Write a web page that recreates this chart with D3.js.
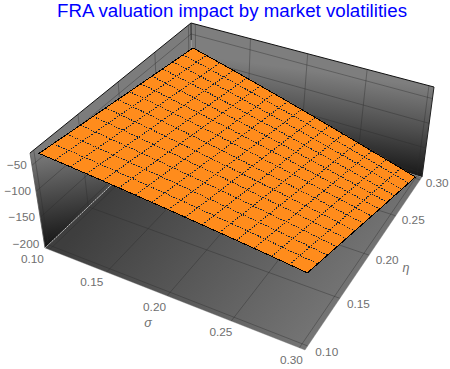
<!DOCTYPE html>
<html><head><meta charset="utf-8">
<script src="https://cdn.jsdelivr.net/npm/d3@7"></script>
<style>html,body{margin:0;padding:0;background:#fff}svg{display:block}text{font-family:"Liberation Sans",Arial,sans-serif}</style>
</head><body><div id="c"></div>
<script>
const titleText = "FRA valuation impact by market volatilities";
const sigmaTicks = [0.10, 0.15, 0.20, 0.25, 0.30];
const etaTicks = [0.10, 0.15, 0.20, 0.25, 0.30];
const zTicks = [-50, -100, -150, -200];
const sigmaMesh = [0.1,0.1125,0.125,0.1375,0.15,0.1625,0.175,0.1875,0.2,0.2125,0.225,0.2375,0.25,0.2625,0.275,0.2875,0.3];
const etaMesh = [0.1,0.1154,0.1308,0.1462,0.1615,0.1769,0.1923,0.2077,0.2231,0.2385,0.2538,0.2692,0.2846,0.3];
// surface height read along the two outer edges of the sheet, one value per sigma mesh line
const zAtEtaLow = [-30,-33.2,-36.4,-39.7,-43,-46.3,-49.7,-53.1,-56.5,-60,-63.5,-67,-70.5,-74,-77.6,-81.3,-85];
const zAtEtaHigh = [-73,-80.8,-88.8,-96.9,-105,-113.2,-121.4,-129.7,-138,-146.4,-154.8,-163.3,-171.8,-180.3,-188.8,-197.4,-206];

const W = 450, H = 369;
// box corners on screen: [sigma side, eta side]
const floorC = {A:[45,248], B:[305,350], C:[422,177], D:[192,108]};
const topC = {A:[30,153], B:[313,245], C:[434,87], D:[191,23]};

function homography(c){
  const [x0,y0]=c.A,[x1,y1]=c.B,[x2,y2]=c.C,[x3,y3]=c.D;
  const dx1=x1-x2,dx2=x3-x2,sx=x0-x1+x2-x3,dy1=y1-y2,dy2=y3-y2,sy=y0-y1+y2-y3;
  const den=dx1*dy2-dx2*dy1;
  const g=(sx*dy2-dx2*sy)/den,h=(dx1*sy-sx*dy1)/den;
  const a=x1-x0+g*x1,b=x3-x0+h*x3,d=y1-y0+g*y1,e=y3-y0+h*y3;
  return (u,v)=>{const w=g*u+h*v+1;return [(a*u+b*v+x0)/w,(d*u+e*v+y0)/w];};
}
const hFloor=homography(floorC), hTop=homography(topC);
const sx=d3.scaleLinear().domain([0.096,0.304]).range([0,1]);
const sy=d3.scaleLinear().domain([0.096,0.304]).range([0,1]);
const sz=d3.scaleLinear().domain([-208.5,-26.5]).range([0,1]);
function P(s,e,z){
  const u=sx(s),v=sy(e),t=sz(z),f=hFloor(u,v),g=hTop(u,v);
  return [f[0]+(g[0]-f[0])*t,f[1]+(g[1]-f[1])*t];
}
const zlo=sz.domain()[0],zhi=sz.domain()[1],slo=sx.domain()[0],shi=sx.domain()[1],elo=sy.domain()[0],ehi=sy.domain()[1];
const line=d3.line();
const poly=p=>line(p)+"Z";

const svg=d3.select("#c").append("svg").attr("width",W).attr("height",H).attr("viewBox",`0 0 ${W} ${H}`);
const defs=svg.append("defs");
function grad(id,a,b,stops){
  const g=defs.append("linearGradient").attr("id",id).attr("gradientUnits","userSpaceOnUse")
    .attr("x1",a[0]).attr("y1",a[1]).attr("x2",b[0]).attr("y2",b[1]);
  stops.forEach(s=>g.append("stop").attr("offset",s[0]).attr("stop-color",s[1]));
}
grad("gl",P(slo,elo,zhi),P(slo,elo,zlo),[[0,"#7c7c7c"],[0.45,"#4c4c4c"],[1,"#141414"]]);
grad("gr",P(shi,ehi,zhi),P(shi,ehi,zlo),[[0,"#7e7e7e"],[0.5,"#4e4e4e"],[1,"#181818"]]);
grad("gf",[110,190],[305,350],[[0,"#3e3e3e"],[1,"#757575"]]);

// walls and floor
svg.append("path").attr("d",poly([P(slo,elo,zhi),P(slo,ehi,zhi),P(slo,ehi,zlo),P(slo,elo,zlo)])).attr("fill","url(#gl)");
svg.append("path").attr("d",poly([P(slo,ehi,zhi),P(shi,ehi,zhi),P(shi,ehi,zlo),P(slo,ehi,zlo)])).attr("fill","url(#gr)");
svg.append("path").attr("d",poly([P(slo,elo,zlo),P(shi,elo,zlo),P(shi,ehi,zlo),P(slo,ehi,zlo)])).attr("fill","url(#gf)");

// grid lines
const grid=svg.append("g").attr("fill","none").attr("stroke","#2a2a2a").attr("stroke-opacity",0.38).attr("stroke-width",1);
const gl=(a,b)=>grid.append("path").attr("d",line([a,b]));
sigmaTicks.forEach(s=>{gl(P(s,elo,zlo),P(s,ehi,zlo));gl(P(s,ehi,zlo),P(s,ehi,zhi));});
etaTicks.forEach(e=>{gl(P(slo,e,zlo),P(shi,e,zlo));gl(P(slo,e,zlo),P(slo,e,zhi));});
zTicks.forEach(z=>{gl(P(slo,elo,z),P(slo,ehi,z));gl(P(slo,ehi,z),P(shi,ehi,z));});

// box edges
const edges=svg.append("g").attr("fill","none");
edges.append("path").attr("d",line([P(slo,elo,zhi),P(slo,ehi,zhi),P(shi,ehi,zhi)])).attr("stroke","#111").attr("stroke-width",1);
edges.append("path").attr("d",line([P(shi,ehi,zhi),P(shi,ehi,zlo)])).attr("stroke","#222").attr("stroke-width",1);
edges.append("path").attr("d",line([P(slo,elo,zhi),P(slo,elo,zlo)])).attr("stroke","#555").attr("stroke-width",0.8);
edges.append("path").attr("d",line([P(slo,ehi,zhi),P(slo,ehi,zhi+ (zlo-zhi)*0.2)])).attr("stroke","#222").attr("stroke-width",1);
edges.append("path").attr("d",line([P(slo,elo,zlo),P(slo,ehi,zlo)])).attr("stroke","#cfcfcf").attr("stroke-width",0.8).attr("stroke-dasharray","2 1");
edges.append("path").attr("d",line([P(slo,elo,zlo),P(shi,elo,zlo),P(shi,ehi,zlo)])).attr("stroke","#777").attr("stroke-opacity",0.5).attr("stroke-width",0.7);

// surface
const eFrac=d3.scaleLinear().domain(d3.extent(etaMesh)).range([0,1]);
function S(i,j){
  const f=eFrac(etaMesh[j]);
  return P(sigmaMesh[i],etaMesh[j],zAtEtaLow[i]+(zAtEtaHigh[i]-zAtEtaLow[i])*f);
}
const cells=d3.cross(d3.range(sigmaMesh.length-1),d3.range(etaMesh.length-1));
const orange="#ff8c1c";
svg.append("g").selectAll("path").data(cells).join("path")
  .attr("d",([i,j])=>poly([S(i,j),S(i+1,j),S(i+1,j+1),S(i,j+1)]))
  .attr("fill",orange).attr("stroke",orange).attr("stroke-width",0.6);
const mesh=svg.append("g").attr("fill","none").attr("stroke","#0f2338").attr("stroke-width",1).attr("stroke-dasharray","1.4 1.4").attr("shape-rendering","crispEdges");
sigmaMesh.slice(1,-1).forEach((s,k)=>mesh.append("path").attr("d",line(etaMesh.map((e,j)=>S(k+1,j)))));
etaMesh.slice(1,-1).forEach((e,k)=>mesh.append("path").attr("d",line(sigmaMesh.map((s,i)=>S(i,k+1)))));
const last=sigmaMesh.length-1,lastE=etaMesh.length-1;
const outline=[...d3.range(last+1).map(i=>S(i,0)),...d3.range(lastE+1).map(j=>S(last,j)),...d3.range(last,-1,-1).map(i=>S(i,lastE)),...d3.range(lastE,-1,-1).map(j=>S(0,j))];
svg.append("path").attr("d",poly(outline)).attr("fill","none").attr("stroke","#000").attr("stroke-width",1).attr("shape-rendering","crispEdges");

// labels
const tc="#6f6f6f",fs=11.8;
const fmt=d3.format(".2f");
const sdx=d3.scaleLinear().domain([0.1,0.3]).range([-17,-8]),sdy=d3.scaleLinear().domain([0.1,0.3]).range([9.5,12]);
const edx=d3.scaleLinear().domain([0.1,0.3]).range([19,17]),edy=d3.scaleLinear().domain([0.1,0.3]).range([6,3]);
const lab=svg.append("g").attr("fill",tc).attr("font-size",fs).attr("dominant-baseline","central");
lab.selectAll(".s").data(sigmaTicks).join("text").attr("class","s").attr("text-anchor","middle")
  .attr("x",d=>P(d,elo,zlo)[0]+sdx(d)).attr("y",d=>P(d,elo,zlo)[1]+sdy(d)).text(fmt);
lab.selectAll(".e").data(etaTicks).join("text").attr("class","e").attr("text-anchor","middle")
  .attr("x",d=>P(shi,d,zlo)[0]+edx(d)).attr("y",d=>P(shi,d,zlo)[1]+edy(d)).text(fmt);
lab.selectAll(".z").data(zTicks).join("text").attr("class","z").attr("text-anchor","end")
  .attr("x",d=>P(slo,elo,d)[0]-5).attr("y",d=>P(slo,elo,d)[1]).text(d=>d3.format("d")(d).replace("-","\u2212"));
svg.append("text").attr("x",148).attr("y",323).attr("text-anchor","middle").attr("dominant-baseline","central").attr("fill",tc).attr("font-size",12.5).attr("font-style","italic").attr("font-family","Liberation Serif,serif").text("\u03c3");
svg.append("text").attr("x",406).attr("y",268).attr("text-anchor","middle").attr("dominant-baseline","central").attr("fill",tc).attr("font-size",12.5).attr("font-style","italic").attr("font-family","Liberation Serif,serif").text("\u03b7");
svg.append("text").attr("x",232).attr("y",17).attr("text-anchor","middle").attr("fill","#0000ff").attr("font-size",18.7).text(titleText);
</script></body></html>
